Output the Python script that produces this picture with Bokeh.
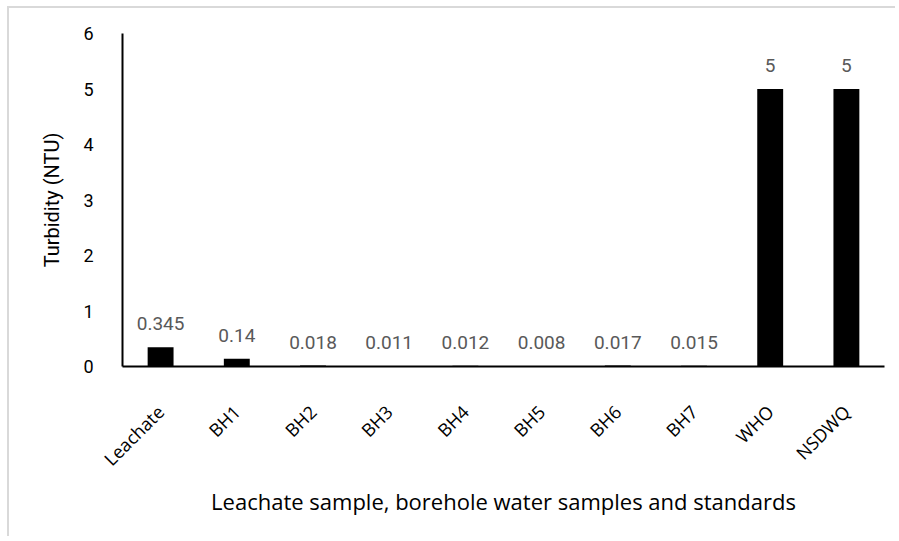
from bokeh.plotting import figure
from bokeh.models import ColumnDataSource, LabelSet, FactorRange, FixedTicker
from bokeh.embed import file_html
from bokeh.resources import INLINE
from bokeh.core.properties import value
import math

categories = ["Leachate", "BH1", "BH2", "BH3", "BH4", "BH5", "BH6", "BH7", "WHO", "NSDWQ"]
turbidity = [0.345, 0.14, 0.018, 0.011, 0.012, 0.008, 0.017, 0.015, 5, 5]
value_labels = ["0.345", "0.14", "0.018", "0.011", "0.012", "0.008", "0.017", "0.015", "5", "5"]
y_ticks = [0, 1, 2, 3, 4, 5, 6]

source = ColumnDataSource(dict(cat=categories, val=turbidity, lab=value_labels))

p = figure(
    x_range=FactorRange(*categories), y_range=(0, 6),
    width=888, height=530, output_backend="svg", toolbar_location=None,
    min_border_left=113, min_border_right=13, min_border_top=25, min_border_bottom=172,
)
p.styles = {"border-left": "2px solid #d9d9d9", "border-top": "2px solid #d9d9d9",
            "margin-left": "7px", "margin-top": "6px"}
p.outline_line_color = None
p.xgrid.grid_line_color = None
p.ygrid.grid_line_color = None

p.vbar(x="cat", top="val", width=0.34, source=source, fill_color="black", line_color=None)

labels = LabelSet(x="cat", y="val", text="lab", source=source, y_offset=17,
                  text_align="center", text_baseline="alphabetic",
                  text_font=value("Roboto"), text_font_size="19px", text_color="#595959")
p.add_layout(labels)

p.yaxis.ticker = FixedTicker(ticks=y_ticks)
for ax in (p.xaxis[0], p.yaxis[0]):
    ax.axis_line_color = "black"
    ax.axis_line_width = 2
    ax.major_tick_line_color = None
    ax.minor_tick_line_color = None

p.yaxis.major_label_text_font = "Roboto"
p.yaxis.major_label_text_font_size = "18px"
p.yaxis.major_label_text_color = "black"
p.yaxis.major_label_standoff = 23
p.yaxis.axis_label = "Turbidity (NTU)"
p.yaxis.axis_label_text_font = "Roboto"
p.yaxis.axis_label_text_font_size = "20px"
p.yaxis.axis_label_text_font_style = "normal"
p.yaxis.axis_label_text_color = "black"
p.yaxis.axis_label_standoff = 16

p.xaxis.major_label_orientation = math.pi / 4
p.xaxis.major_label_text_font = "Open Sans"
p.xaxis.major_label_text_font_size = "18px"
p.xaxis.major_label_text_color = "black"
p.xaxis.major_label_standoff = 36
p.xaxis.axis_label = "Leachate sample, borehole water samples and standards"
p.xaxis.axis_label_text_font = "Open Sans"
p.xaxis.axis_label_text_font_size = "22px"
p.xaxis.axis_label_text_font_style = "normal"
p.xaxis.axis_label_text_color = "black"
p.xaxis.axis_label_standoff = 4

open("out.html", "w").write(file_html(p, INLINE))
